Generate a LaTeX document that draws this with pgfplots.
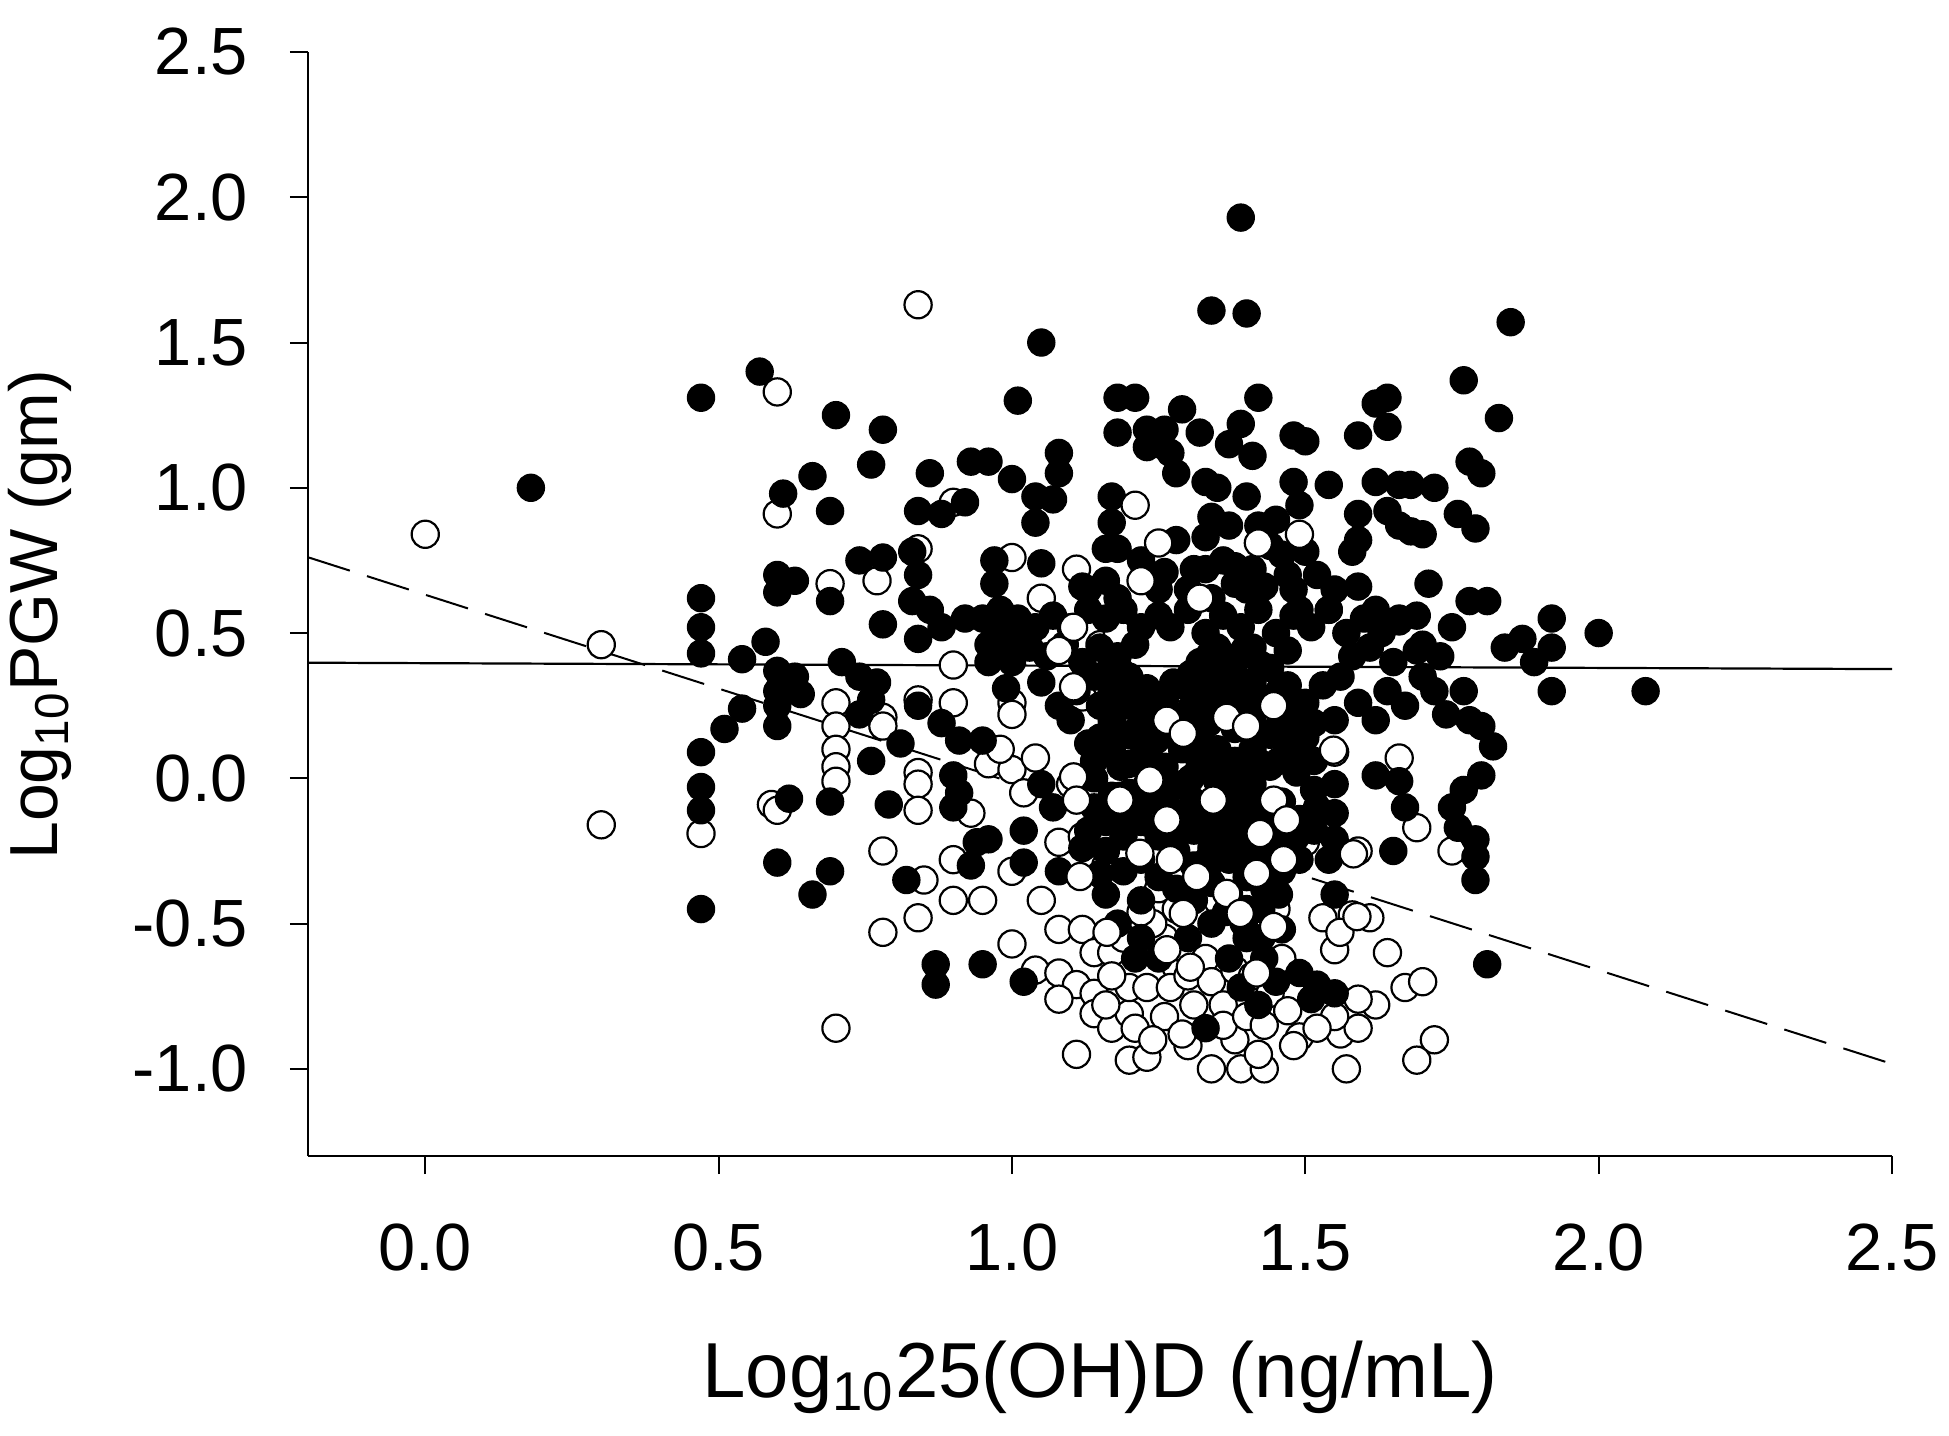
\documentclass[border=0pt]{standalone}
\usepackage{fontspec}
\setmainfont{Liberation Sans}
\usepackage{pgfplots}
\pgfplotsset{compat=1.18}
\begin{document}
\begin{tikzpicture}
\begin{axis}[
  width=396pt, height=276pt, scale only axis,
  xmin=-0.2, xmax=2.5, ymin=-1.3, ymax=2.5,
  axis lines*=left,
  axis line style={line width=0.7pt, -},
  xtick={0,0.5,1,1.5,2,2.5},
  xticklabels={0.0,0.5,1.0,1.5,2.0,2.5},
  ytick={-1,-0.5,0,0.5,1,1.5,2,2.5},
  yticklabels={-1.0,-0.5,0.0,0.5,1.0,1.5,2.0,2.5},
  tick align=outside,
  major tick length=4.5pt,
  tick style={line width=0.5pt, black},
  ticklabel style={font=\fontsize{16.7}{20}\selectfont},
  xticklabel style={anchor=north, yshift=-9pt},
  yticklabel style={anchor=east, xshift=-7pt},
  xlabel={Log\textsubscript{10}25(OH)D (ng/mL)},
  ylabel={Log\textsubscript{10}PGW (gm)},
  xlabel style={at={(axis description cs:0.5,-0.219)}, anchor=base, font=\fontsize{19.5}{23}\selectfont},
  ylabel style={at={(axis description cs:-0.169,0.49)}, anchor=center, font=\fontsize{17}{20}\selectfont},
  clip=false,
]
\coordinate (bbsw) at (rel axis cs:-0.1944,-0.2527);
\coordinate (bbne) at (rel axis cs:1.0360,1.0471);
% open circles (drawn beneath)
\addplot[only marks, mark=*, mark size=3.4pt, mark options={fill=white, draw=black, line width=0.55pt}] coordinates {
(0.00,0.84) (0.30,0.46) (0.30,-0.16) (0.47,-0.19) (0.60,1.33) (0.60,0.91) (0.59,-0.09) (0.60,-0.11)
(0.69,0.67) (0.70,0.26) (0.70,0.18) (0.70,0.10) (0.70,0.04) (0.70,-0.01) (0.70,-0.86)
(0.77,0.68) (0.78,0.21) (0.78,0.18) (0.78,-0.25) (0.78,-0.53)
(0.84,1.63) (0.84,0.79) (0.84,0.02) (0.84,-0.02) (0.84,-0.11) (0.84,-0.48) (0.84,0.27) (0.85,-0.35)
(0.90,0.95) (0.90,0.39) (0.90,0.26) (0.90,-0.28) (0.90,-0.42) (0.95,-0.42) (0.96,0.05)
(1.00,0.03) (1.00,0.26) (1.00,0.22) (1.00,-0.32) (1.00,-0.57) (1.00,0.76) (1.04,0.07)
(1.08,-0.22) (1.08,-0.52) (1.12,-0.52) (1.04,-0.66) (1.08,-0.67) (1.11,-0.71) (1.08,-0.76)
(1.14,-0.74) (1.14,-0.81) (1.17,-0.86) (1.20,-0.81) (1.20,-0.72) (1.23,-0.72) (1.11,-0.95)
(1.20,-0.97) (1.23,-0.96) (1.14,-0.60) (1.17,-0.60) (1.11,0.72)
(1.55,0.09) (1.66,0.07) (1.59,-0.25)
(1.69,-0.17) (1.75,-0.25) (1.58,-0.47) (1.61,-0.48) (1.53,-0.48) (1.55,-0.59) (1.64,-0.60)
(1.67,-0.72) (1.70,-0.70) (1.72,-0.90) (1.69,-0.97) (1.34,-1.00) (1.39,-1.00) (1.43,-1.00)
(1.57,-1.00) (1.30,-0.92) (1.38,-0.90) (1.42,-0.95) (1.49,-0.89) (1.56,-0.88) (1.59,-0.86)
(1.62,-0.78) (1.59,-0.76) (1.55,-0.82) (1.52,-0.86)
(1.26,-0.55) (1.28,-0.65) (1.27,-0.72) (1.26,-0.82) (1.29,-0.88) (1.30,-0.60) (1.30,-0.68)
(1.31,-0.78) (1.33,-0.62) (1.34,-0.70) (1.36,-0.78) (1.36,-0.85) (1.38,-0.66) (1.40,-0.82)
(1.41,-0.68) (1.43,-0.85) (1.44,-0.74) (1.46,-0.62) (1.47,-0.80) (1.48,-0.92) (1.45,-0.45)
(1.41,-0.48) (1.35,-0.42) (1.28,-0.45) (1.24,-0.50) (1.22,-0.46) (1.25,-0.38) (1.19,-0.55)
(1.21,-0.86) (1.24,-0.90) (1.17,-0.68) (1.16,-0.78)
(1.05,0.62) (1.15,0.46) (1.18,0.50) (1.20,0.15) (1.12,0.28) (1.10,-0.02)
(1.02,-0.05) (0.98,0.10) (0.93,-0.12) (1.05,-0.42) (1.12,-0.20) (1.16,-0.30) (1.23,-0.15)
(1.30,-0.22) (1.35,0.06) (1.45,0.20) (1.50,-0.22) (1.27,0.10) (1.30,0.30)
};
% filled circles
\addplot[only marks, mark=*, mark size=3.4pt, mark options={fill=black, draw=black, line width=0.3pt}] coordinates {
(0.18,1.00) (0.47,1.31) (0.47,0.62) (0.47,0.52) (0.47,0.43) (0.47,0.09) (0.47,-0.03) (0.47,-0.11) (0.47,-0.45)
(0.51,0.17) (0.54,0.24) (0.54,0.41) (0.58,0.47) (0.57,1.40)
(0.60,0.70) (0.63,0.68) (0.60,0.64) (0.61,0.98) (0.60,0.37) (0.63,0.35) (0.64,0.29) (0.60,0.30)
(0.60,0.25) (0.60,0.18) (0.62,-0.07) (0.60,-0.29)
(0.66,1.04) (0.69,0.61) (0.69,0.92) (0.70,1.25) (0.66,-0.40) (0.69,-0.32) (0.69,-0.08)
(0.71,0.40) (0.74,0.35) (0.77,0.33) (0.76,0.27) (0.74,0.22) (0.74,0.75) (0.78,0.76) (0.78,1.20)
(0.76,1.08) (0.78,0.53) (0.76,0.06) (0.79,-0.09) (0.81,0.12) (0.82,-0.35)
(0.83,0.78) (0.83,0.61) (0.84,0.92) (0.84,0.70) (0.84,0.25) (0.84,0.48) (0.86,0.58) (0.86,1.05)
(0.88,0.91) (0.88,0.19) (0.88,0.52) (0.87,-0.64) (0.87,-0.71)
(0.90,0.01) (0.90,-0.10) (0.91,-0.05) (0.91,0.13) (0.92,0.95) (0.93,1.09) (0.92,0.55) (0.93,-0.30)
(0.94,-0.22) (0.95,0.13) (0.95,-0.64) (0.96,-0.21) (0.96,1.09)
(0.97,0.75) (0.97,0.67) (0.96,0.46) (0.97,0.52) (0.96,0.40) (1.00,0.48) (1.00,1.03) (1.01,1.30)
(1.02,-0.18) (1.02,-0.29) (1.02,-0.70)
(1.04,0.97) (1.04,0.88) (1.05,1.50) (1.05,0.74) (1.05,-0.02) (1.07,0.96) (1.07,-0.10) (1.08,1.05)
(1.08,1.12) (1.08,-0.32) (1.12,-0.24) (1.14,0.00) (1.14,-0.10) (1.17,-0.06)
(1.10,0.20) (1.13,0.12) (1.08,0.25)
(0.95,0.55) (0.98,0.58) (1.01,0.55) (1.04,0.52) (1.07,0.56) (1.10,0.52) (1.13,0.58) (1.16,0.55)
(1.19,0.58) (1.22,0.52) (1.25,0.56)
(0.97,0.44) (1.00,0.40) (1.03,0.45) (1.06,0.42) (1.09,0.46) (1.12,0.40) (1.15,0.45) (1.18,0.42)
(1.21,0.46)
(1.05,0.33) (1.11,0.30) (1.17,0.34) (1.23,0.31) (0.99,0.31)
(1.13,0.65) (1.16,0.68) (1.18,0.62) (1.12,0.66) (1.16,0.79) (1.17,0.88) (1.18,0.79) (1.17,0.97)
(1.27,0.52) (1.30,0.58) (1.33,0.50) (1.36,0.56) (1.39,0.52) (1.42,0.58) (1.45,0.50) (1.48,0.56)
(1.51,0.52) (1.54,0.58) (1.57,0.50) (1.60,0.55) (1.63,0.50) (1.66,0.54)
(1.17,0.40) (1.17,0.30) (1.17,0.20) (1.17,0.10)
(1.20,0.35) (1.20,0.25) (1.20,0.15) (1.20,0.05) (1.20,-0.05)
(1.23,0.30) (1.23,0.20) (1.23,0.08) (1.23,-0.02)
(1.26,0.27) (1.26,0.15) (1.26,0.04)
(1.29,0.32) (1.29,0.21) (1.29,0.10) (1.29,-0.02)
(1.32,0.40) (1.32,0.28) (1.32,0.16) (1.32,0.05)
(1.35,0.45) (1.35,0.34) (1.35,0.22) (1.35,0.10) (1.35,-0.01)
(1.38,0.40) (1.38,0.29) (1.38,0.17) (1.38,0.06)
(1.41,0.45) (1.41,0.33) (1.41,0.21) (1.41,0.10) (1.41,-0.02)
(1.44,0.38) (1.44,0.26) (1.44,0.15) (1.44,0.04)
(1.47,0.44) (1.47,0.32) (1.47,0.20) (1.47,0.09)
(1.50,0.26) (1.50,0.14)
(1.53,0.32)
(1.16,-0.15) (1.16,-0.25) (1.16,-0.40)
(1.19,-0.10) (1.19,-0.20) (1.19,-0.32)
(1.22,-0.15) (1.22,-0.28) (1.22,-0.42)
(1.25,-0.08) (1.25,-0.20) (1.25,-0.34)
(1.28,-0.12) (1.28,-0.25) (1.28,-0.38)
(1.31,-0.08) (1.31,-0.18) (1.31,-0.30) (1.31,-0.42)
(1.34,-0.12) (1.34,-0.24) (1.34,-0.36)
(1.37,-0.06) (1.37,-0.17) (1.37,-0.28) (1.37,-0.40)
(1.40,-0.10) (1.40,-0.22) (1.40,-0.34) (1.40,-0.45)
(1.43,-0.14) (1.43,-0.26) (1.43,-0.38)
(1.46,-0.08) (1.46,-0.20) (1.46,-0.32)
(1.49,-0.14) (1.49,-0.28)
(1.52,-0.10)
(1.185,0.37) (1.185,0.26) (1.185,0.15) (1.185,0.04) (1.185,-0.06) (1.185,-0.16)
(1.215,0.28) (1.215,0.17) (1.215,0.06) (1.215,-0.08)
(1.245,0.24) (1.245,0.13) (1.245,0.02)
(1.275,0.33) (1.275,0.21) (1.275,-0.03) (1.275,-0.18)
(1.305,0.36) (1.305,0.24) (1.305,0.11) (1.305,0.00) (1.305,-0.12)
(1.335,0.42) (1.335,0.30) (1.335,0.19) (1.335,0.08) (1.335,-0.18) (1.335,-0.30)
(1.365,0.38) (1.365,0.27) (1.365,0.04) (1.365,-0.12) (1.365,-0.22) (1.365,-0.46)
(1.395,0.44) (1.395,0.33) (1.395,0.22) (1.395,0.00) (1.395,-0.16) (1.395,-0.28) (1.395,-0.50)
(1.425,0.39) (1.425,0.27) (1.425,0.05) (1.425,-0.08) (1.425,-0.20) (1.425,-0.45) (1.425,-0.55)
(1.455,0.30) (1.455,0.18) (1.455,0.06) (1.455,-0.14) (1.455,-0.40)
(1.485,0.24) (1.485,0.12) (1.485,0.02) (1.485,-0.20)
(1.515,0.19) (1.515,0.06) (1.515,-0.04) (1.515,-0.18)
(1.14,0.35) (1.15,0.25) (1.15,0.14) (1.14,0.06) (1.13,-0.18) (1.15,-0.33)
(1.22,0.75) (1.25,0.65) (1.30,0.65) (1.34,0.62) (1.36,0.75) (1.41,0.72) (1.44,0.80) (1.47,0.70)
(1.52,0.70) (1.50,0.78) (1.40,0.65) (1.33,0.72)
(1.22,-0.55) (1.25,-0.62) (1.30,-0.55) (1.34,-0.50) (1.37,-0.62) (1.40,-0.55) (1.43,-0.62)
(1.46,-0.52) (1.49,-0.67) (1.52,-0.71) (1.55,-0.74) (1.51,-0.76) (1.45,-0.70) (1.39,-0.72)
(1.42,-0.78) (1.33,-0.86) (1.21,-0.62) (1.18,-0.50)
(1.29,1.27) (1.26,1.20) (1.27,1.12) (1.32,1.19) (1.39,1.22) (1.37,1.15) (1.41,1.11) (1.28,1.05)
(1.33,1.02) (1.35,1.00) (1.40,0.97) (1.48,1.02) (1.49,0.94) (1.34,0.90) (1.37,0.87) (1.42,0.87)
(1.45,0.89) (1.46,0.77) (1.28,0.82) (1.26,0.71) (1.31,0.72) (1.33,0.83) (1.38,0.73) (1.38,0.67)
(1.43,0.66) (1.48,0.65) (1.49,0.58) (1.55,0.65) (1.54,0.58) (1.59,0.66) (1.62,0.58) (1.66,0.55)
(1.48,1.18) (1.50,1.16) (1.59,1.18) (1.62,1.29) (1.64,1.31) (1.64,1.21) (1.54,1.01) (1.62,1.02)
(1.66,1.01) (1.59,0.91) (1.59,0.82) (1.58,0.78) (1.64,0.92) (1.66,0.87) (1.42,1.31) (1.34,1.61)
(1.40,1.60) (1.39,1.93) (1.25,1.15) (1.23,1.20) (1.23,1.14) (1.18,1.19) (1.18,1.31) (1.21,1.31)
(1.55,0.20) (1.59,0.26) (1.62,0.20) (1.64,0.30) (1.67,0.25) (1.55,-0.02) (1.62,0.01) (1.66,-0.01)
(1.67,-0.10) (1.65,-0.25) (1.55,-0.12) (1.55,-0.21) (1.54,-0.28) (1.55,-0.40) (1.56,0.35)
(1.58,0.42) (1.61,0.45) (1.65,0.40) (1.69,0.44) (1.70,0.35) (1.72,0.30) (1.70,0.46) (1.73,0.42)
(1.74,0.22) (1.71,0.67) (1.77,0.30) (1.78,0.20) (1.82,0.11) (1.80,0.18) (1.80,0.01) (1.77,-0.04)
(1.75,-0.10) (1.76,-0.17) (1.79,-0.21) (1.79,-0.27) (1.79,-0.35) (1.81,-0.64) (1.77,1.37)
(1.83,1.24) (1.85,1.57) (1.78,1.09) (1.80,1.05) (1.68,1.01) (1.72,1.00) (1.76,0.91) (1.79,0.86)
(1.68,0.85) (1.70,0.84) (1.78,0.61) (1.81,0.61) (1.69,0.56) (1.75,0.52) (1.84,0.45)
(1.89,0.40) (1.92,0.45) (1.92,0.55) (2.00,0.50) (1.92,0.30) (2.08,0.30) (1.87,0.48)
};
% open circles lying over the dense core
\addplot[only marks, mark=*, mark size=3.4pt, mark options={fill=white, draw=black, line width=0.55pt}] coordinates {
(1.25,0.81) (1.42,0.81) (1.49,0.84) (1.22,0.68) (1.32,0.62) (1.21,0.94)
(1.105,0.315) (1.105,0.52) (1.08,0.44) (1.264,0.20) (1.292,0.155) (1.366,0.21) (1.40,0.18)
(1.446,0.25) (1.105,0.005) (1.11,-0.075) (1.184,-0.075) (1.235,-0.006) (1.264,-0.143)
(1.343,-0.075) (1.446,-0.075) (1.468,-0.143) (1.423,-0.19) (1.218,-0.258) (1.27,-0.28)
(1.315,-0.338) (1.366,-0.396) (1.417,-0.327) (1.463,-0.28) (1.116,-0.338) (1.292,-0.465)
(1.389,-0.465) (1.446,-0.51) (1.264,-0.59) (1.304,-0.65) (1.417,-0.67) (1.559,-0.53)
(1.588,-0.476) (1.162,-0.53) (1.548,0.097) (1.582,-0.26)
};
\addplot[black, line width=0.55pt] coordinates {(-0.2,0.398) (2.5,0.376)};
\addplot[black, line width=0.5pt, dash pattern=on 11pt off 4.5pt] coordinates {(-0.2,0.761) (2.5,-0.983)};
\end{axis}
\pgfresetboundingbox
\path (bbsw) rectangle (bbne);
\end{tikzpicture}
\end{document}
